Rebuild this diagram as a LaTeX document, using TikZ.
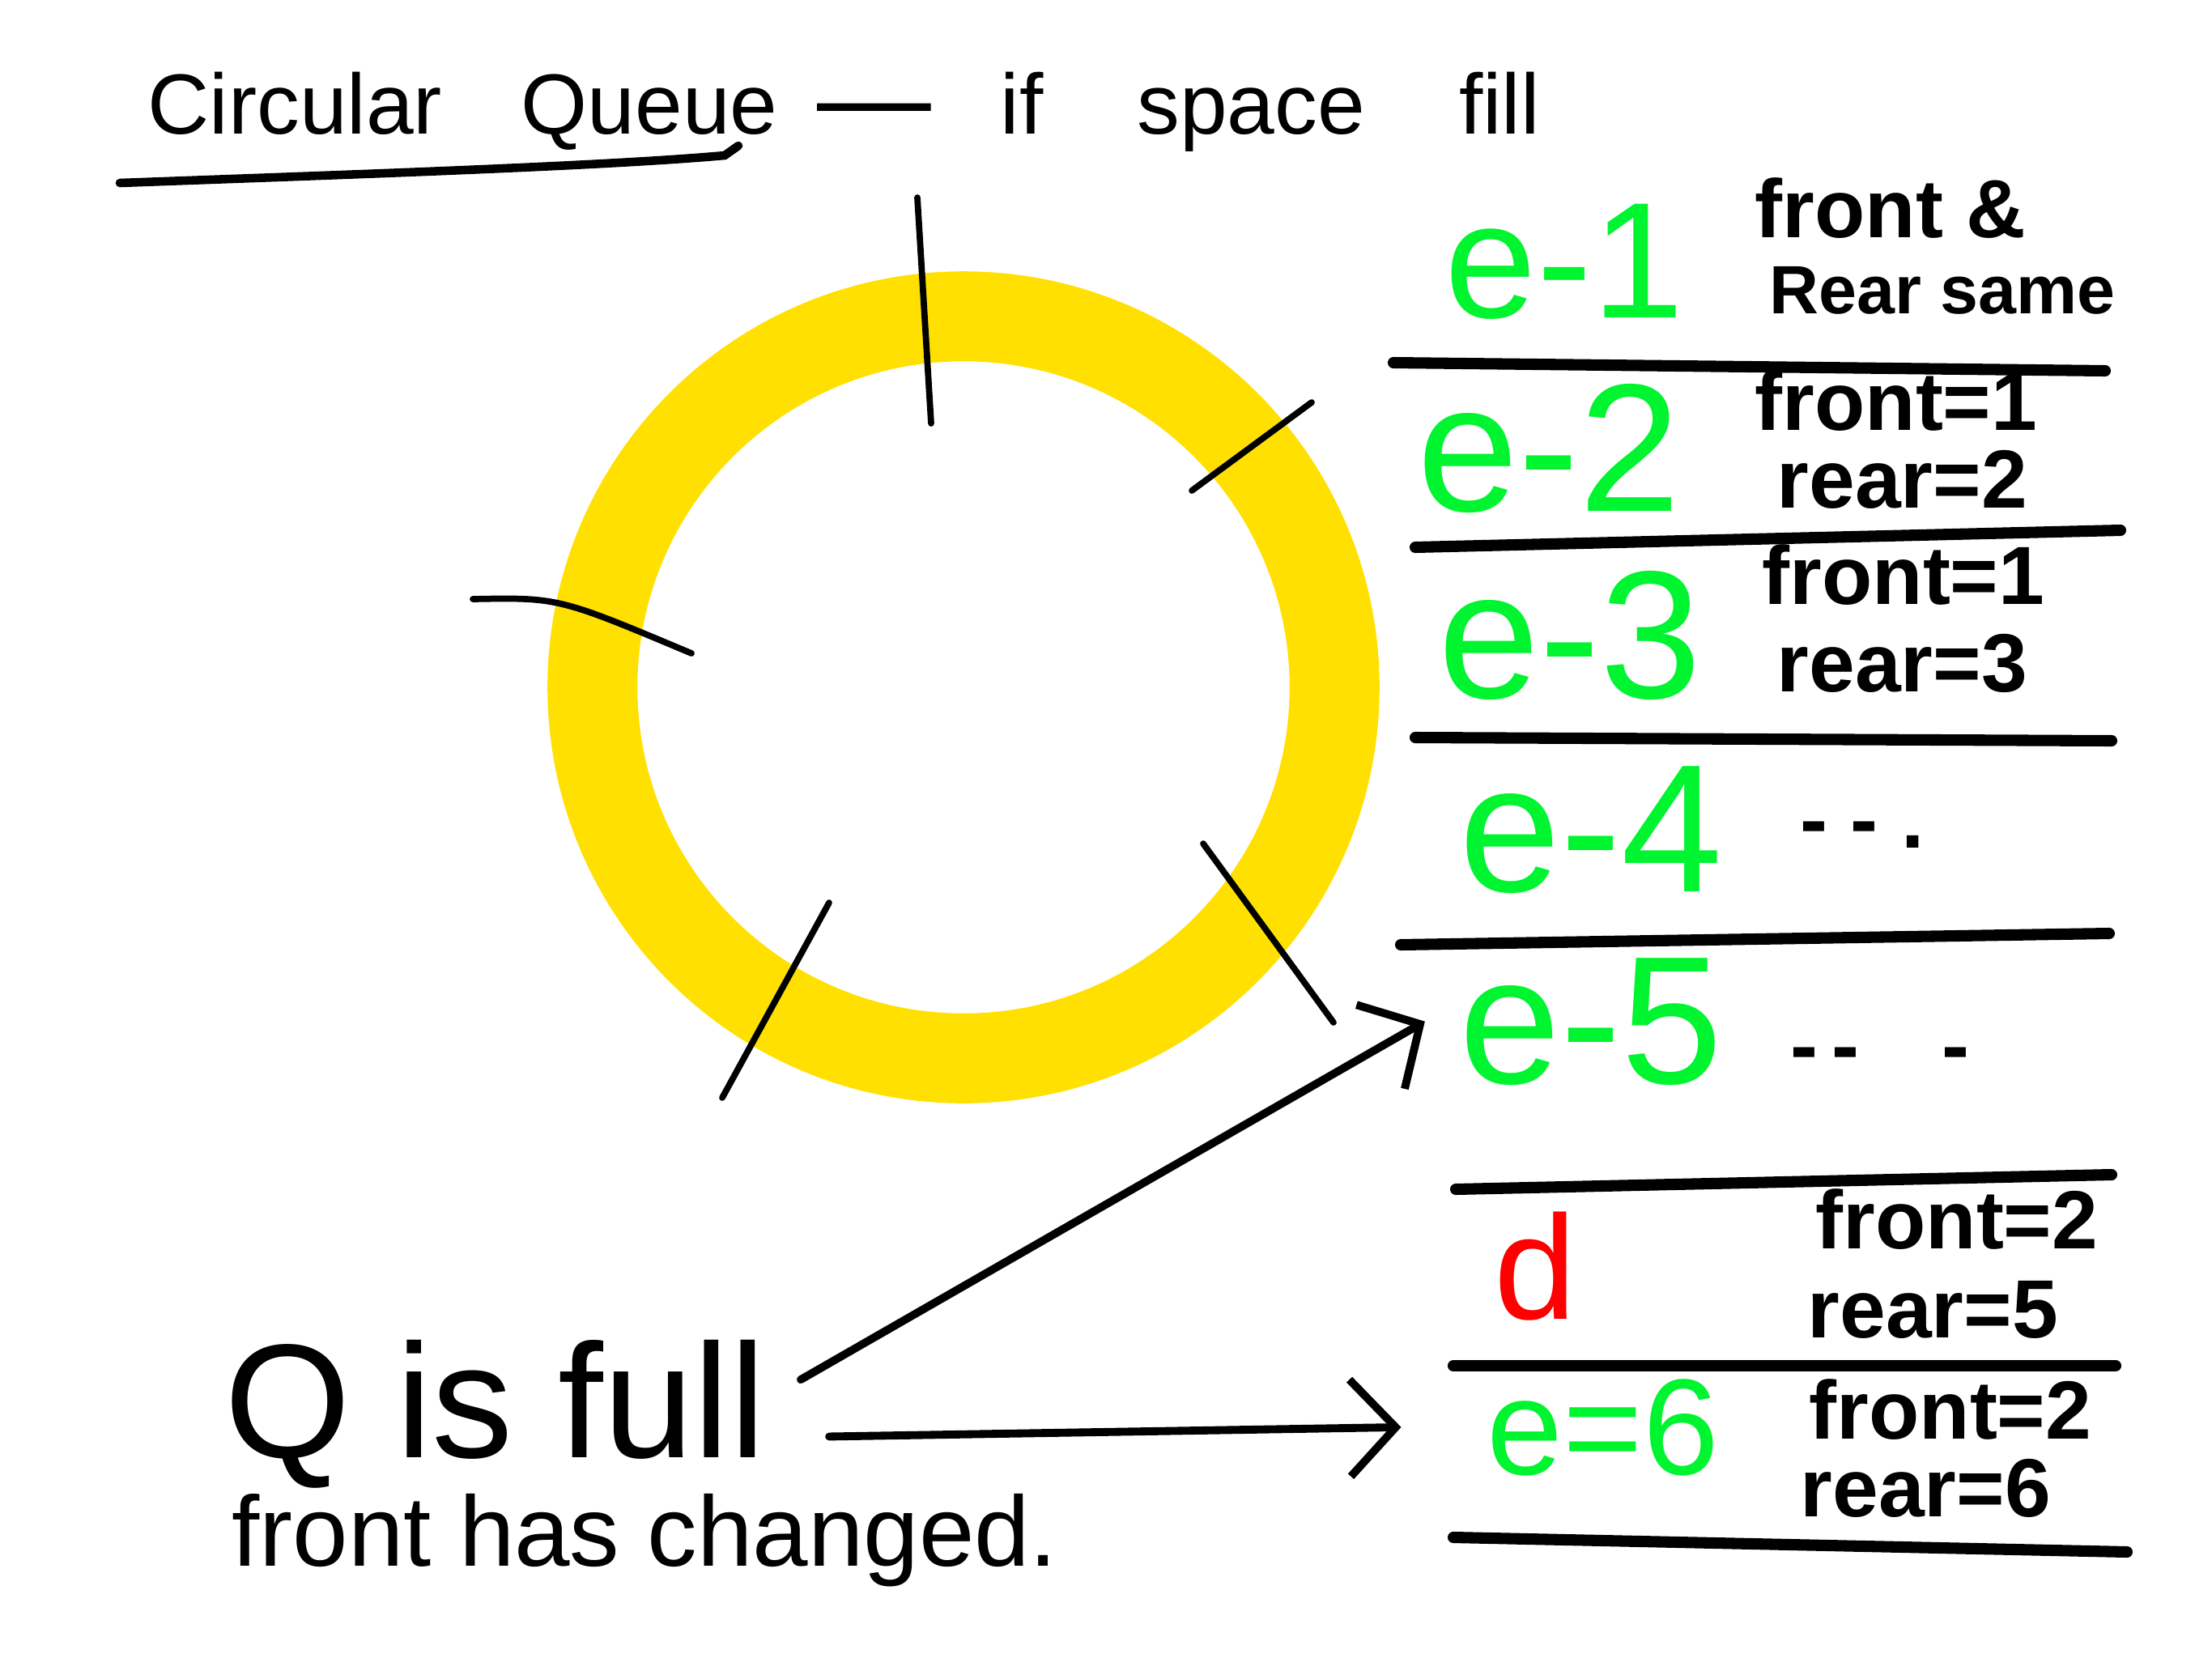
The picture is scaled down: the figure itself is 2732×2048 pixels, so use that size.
\documentclass[tikz,border=0pt]{standalone}
\usepackage{fontspec}
\setmainfont{Liberation Sans}
\usetikzlibrary{arrows.meta}
\definecolor{ringyellow}{HTML}{FFE000}
\definecolor{elemgreen}{HTML}{00F530}
\definecolor{delred}{HTML}{FF0000}
\begin{document}
\begin{tikzpicture}[>={Straight Barb[length=16pt,width=34pt]}, x=.01cm, y=-.01cm, line cap=round,
  every node/.style={inner sep=2pt},
  title/.style={font=\fontsize{30}{34}\selectfont, anchor=base west},
  elem/.style={text=elemgreen, font=\fontsize{64}{70}\selectfont, anchor=base west},
  note/.style={font=\bfseries\fontsize{29}{32}\selectfont, anchor=base west},
  big/.style={font=\fontsize{57}{62}\selectfont, anchor=base west},
  row/.style={line width=4pt},
  tick/.style={line width=2.2pt},
  arrowline/.style={->, line width=2.8pt}]
\useasboundingbox (0,0) rectangle (2732,2048);

% title
\node[title] (circ) at (175,165) {Circular};
\node[title] (queue) at (636,165) {Queue};
\node[font=\fontsize{40}{40}\selectfont] (dash) at (1080,148) {—};
\node[title] (fill) at (1228,165) {\spaceskip=1.1em if space fill};
\draw[line width=3pt] (148,226) .. controls (450,215) and (750,205) .. (895,192) -- (912,180);

% ring
\coordinate (ring) at (1190,849);
\draw[ringyellow, line width=1.11cm] (ring) circle[radius=4.58cm];
\draw[tick] (1133,244) -- (1150,523);
\draw[tick] (1472,606) -- (1620,497);
\draw[tick] (584,740) .. controls (690,738) .. (854,807);
\draw[tick] (1024,1115) -- (892,1356);
\draw[tick] (1486,1042) -- (1647,1263);

% slots
\draw[row] (1721,448) -- (2600,458);
\draw[row] (1748,676) -- (2619,655);
\draw[row] (1748,911) -- (2608,915);
\draw[row] (1730,1167) -- (2605,1153);
\draw[row] (1798,1469) -- (2608,1451);
\draw[row] (1795,1687) -- (2613,1687);
\draw[row] (1795,1899) -- (2627,1917);

\node[elem, font=\fontsize{58}{64}\selectfont] (e1) at (1777,392) {e-1};
\node[elem] (e2) at (1743,631) {e-2};
\node[elem] (e3) at (1769,862) {e-3};
\node[elem] (e4) at (1795,1101) {e-4};
\node[elem] (e5) at (1795,1338) {e-5};
\node[elem, text=delred, font=\fontsize{52}{60}\selectfont] (del) at (1838,1629) {d};
\node[elem, font=\fontsize{48}{54}\selectfont] (e6) at (1829,1821) {e=6};

\node[note] (f1) at (2160,293) {front \&};
\node[note, font=\bfseries\fontsize{24}{28}\selectfont] (r1) at (2178,387) {Rear same};
\node[note] (f2) at (2160,531) {front=1};
\node[note] (r2) at (2187,627) {rear=2};
\node[note] (f3) at (2169,746) {front=1};
\node[note] (r3) at (2187,854) {rear=3};
\node[note, anchor=west] (d4) at (2216,1031) {- - .};
\node[note, anchor=west] (d5) at (2204,1310) {-\,-\quad -};
\node[note] (f6) at (2235,1542) {front=2};
\node[note] (r6) at (2225,1652) {rear=5};
\node[note] (f7) at (2227,1777) {front=2};
\node[note] (r7) at (2216,1873) {rear=6};

% bottom remark
\node[big] (qfull) at (270,1800) {Q is full};
\node[big, font=\fontsize{35}{40}\selectfont] (changed) at (279,1934) {front has changed.};

\draw[arrowline] ([xshift=10pt,yshift=12pt]qfull.east) -- ([xshift=-10pt]e5.west);
\draw[arrowline] ([xshift=20pt,yshift=-8pt]qfull.east) -- ([xshift=-28pt]e6.west);
\end{tikzpicture}
\end{document}
